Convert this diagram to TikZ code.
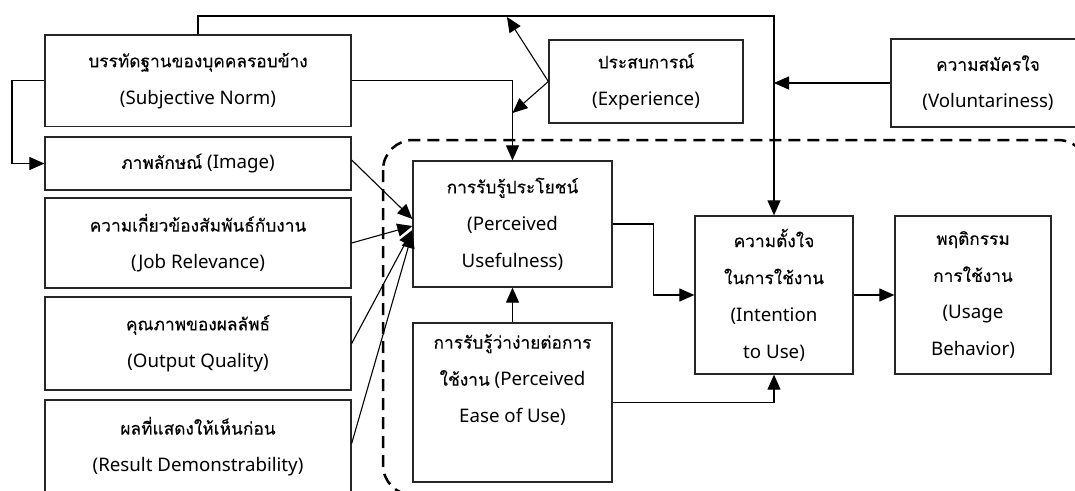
\documentclass[tikz,border=0pt]{standalone}
\usepackage{fontspec}
\setmainfont{Noto Sans}
\newfontfamily\thaifont[Script=Thai,FakeBold=0.25]{Loma}
\newcommand\tht[1]{{\thaifont\fontsize{17.3}{37}\selectfont #1}}
\usetikzlibrary{arrows.meta}

\tikzset{
  box/.style={draw=black!85, line width=1.3, align=center, inner sep=0pt,
              font=\fontsize{18.7}{37}\selectfont},
  conn/.style={draw=black, line width=1.1, -{Triangle[length=15pt,width=13pt]}},
  region/.style={draw=black, line width=2.5, dash pattern=on 12pt off 7pt,
                 rounded corners=30pt},
}

\begin{document}
\begin{tikzpicture}[x=1pt,y=-1pt]
\path[use as bounding box, clip] (0,0) rectangle (1075,490);
\fill[white] (0,0) rectangle (1075,490);

% dashed boundary of the core model
\draw[region] (383,140) rectangle (1088,495);

% external variables
\node[box, minimum width=306, minimum height=91.5] (sn) at (198,80.75)
  {\tht{บรรทัดฐานของบุคคลรอบข้าง}\\(Subjective Norm)};
\node[box, minimum width=306, minimum height=53] (img) at (198,163.5)
  {\tht{ภาพลักษณ์} (Image)};
\node[box, minimum width=306, minimum height=90] (job) at (198,243)
  {\tht{ความเกี่ยวข้องสัมพันธ์กับงาน}\\(Job Relevance)};
\node[box, minimum width=306, minimum height=93] (out) at (198,343.5)
  {\tht{คุณภาพของผลลัพธ์}\\(Output Quality)};
\node[box, minimum width=306, minimum height=93] (res) at (198,446.5)
  {\tht{ผลที่แสดงให้เห็นก่อน}\\(Result Demonstrability)};
\node[box, minimum width=194, minimum height=83] (exp) at (646,81.5)
  {\tht{ประสบการณ์}\\(Experience)};
\node[box, minimum width=194, minimum height=88] (vol) at (988,83)
  {\tht{ความสมัครใจ}\\(Voluntariness)};

% core model
\node[box, minimum width=199, minimum height=126] (pu) at (512.5,224)
  {\tht{การรับรู้ประโยชน์}\\(Perceived\\Usefulness)};
\node[box, minimum width=199, minimum height=159] (peou) at (512.5,402.5)
  {\tht{การรับรู้ว่าง่ายต่อการ}\\\tht{ใช้งาน} (Perceived\\Ease of Use)\\\strut};
\node[box, minimum width=158, minimum height=158] (int) at (774,295)
  {\tht{ความตั้งใจ}\\\tht{ในการใช้งาน}\\(Intention\\to Use)};
\node[box, minimum width=156, minimum height=158] (use) at (973,295)
  {\tht{พฤติกรรม}\\\tht{การใช้งาน}\\(Usage\\Behavior)};

% free ends and bends
\coordinate (topleft) at (198,16);
\coordinate (loopx) at (12,80.75);
\coordinate (expup) at (507,17);
\coordinate (expdown) at (512.5,113);

% connectors
\draw[conn] (sn.north) -- (topleft) -| (int.north);
\draw[conn] (vol.west) -- (vol.west -| int.north);
\draw[conn] (sn.east) -| (pu.north);
\draw[conn] (exp.west) -- (expup);
\draw[conn] (exp.west) -- (expdown);
\draw[conn] (sn.west) -- (loopx) |- (img.west);
\draw[conn] ([yshift=3.5pt]img.east) -- ([yshift=5pt]pu.west);
\draw[conn] (job.east) -- ([yshift=-2pt]pu.west);
\draw[conn] (out.east) -- ([yshift=-6pt]pu.west);
\draw[conn] ([yshift=3pt]res.east) -- ([yshift=-9pt]pu.west);
\draw[conn] (peou.north) -- (pu.south);
\draw[conn] (pu.east) -- ++(41,0) |- (int.west);
\draw[conn] (peou.east) -| (int.south);
\draw[conn] (int.east) -- (use.west);
\end{tikzpicture}
\end{document}
